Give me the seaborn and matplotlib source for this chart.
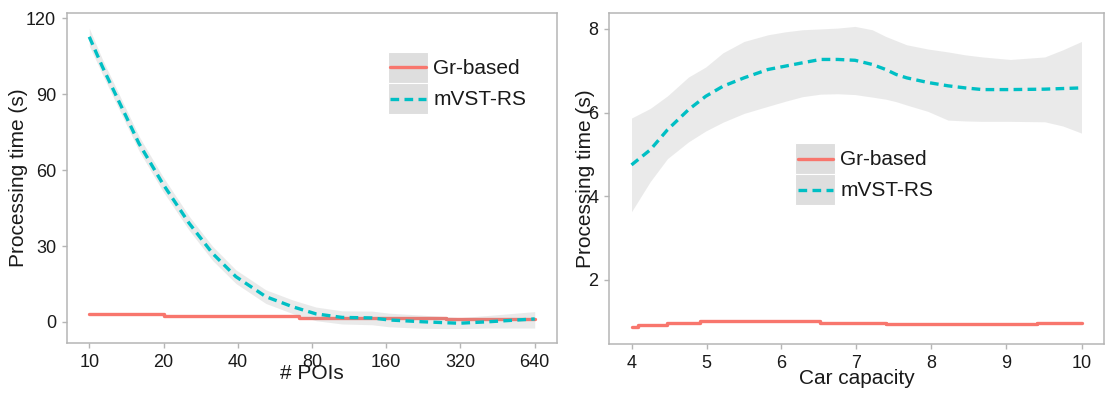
import matplotlib
matplotlib.use("Agg")
import matplotlib.pyplot as plt
import seaborn as sns
import pandas as pd
from matplotlib.patches import Rectangle
from matplotlib.lines import Line2D
from matplotlib.legend_handler import HandlerBase

# ---------------- data ----------------
methods = ["Gr-based", "mVST-RS"]

# Left panel: # POIs (log2 axis)
poi_ticks = [10, 20, 40, 80, 160, 320, 640]
poi_gr_x = [10, 20, 71, 279, 640]
poi_gr_y = [3.2, 2.5, 1.7, 1.0, 1.0]
poi_x = [10, 11.3, 13.2, 15.9, 19.8, 25.4, 31.6, 39.3, 52, 66.8, 83, 106, 140, 164, 223, 280, 316, 417, 640]
poi_mvst_y = [112.6, 100.8, 87.0, 70.5, 54.8, 39.0, 27.1, 17.9, 10.0, 6.0, 3.2, 1.8, 1.6, 0.8, 0.1, -0.3, -0.5, 0.1, 1.2]
poi_mvst_lo = [109.0, 97.8, 84.0, 67.6, 51.9, 36.2, 24.3, 15.2, 7.3, 3.3, 0.5, -0.8, -1.1, -1.9, -2.5, -2.6, -2.6, -2.4, -2.4]
poi_mvst_hi = [116.0, 103.8, 90.0, 73.4, 57.7, 41.8, 29.9, 20.6, 12.7, 8.7, 5.9, 4.4, 4.3, 3.5, 2.7, 2.1, 1.7, 2.6, 4.1]
poi_yticks = [0, 30, 60, 90, 120]

# Right panel: car capacity
cap_ticks = [4, 5, 6, 7, 8, 9, 10]
cap_gr_x = [4.0, 4.08, 4.47, 4.91, 6.51, 7.4, 9.4, 10.0]
cap_gr_y = [0.88, 0.92, 0.965, 1.02, 0.98, 0.94, 0.98, 0.98]
cap_x = [4.0, 4.25, 4.48, 4.76, 4.99, 5.22, 5.5, 5.82, 6.05, 6.28, 6.52, 6.75, 6.98, 7.21, 7.39,
         7.53, 7.67, 7.95, 8.22, 8.45, 8.68, 9.05, 9.51, 9.75, 10.0]
cap_mvst_y = [4.75, 5.11, 5.59, 6.07, 6.39, 6.63, 6.83, 7.03, 7.11, 7.19, 7.27, 7.27, 7.25, 7.15, 7.03,
              6.91, 6.83, 6.72, 6.64, 6.59, 6.55, 6.55, 6.56, 6.575, 6.59]
cap_mvst_hi = [5.87, 6.10, 6.40, 6.85, 7.09, 7.43, 7.70, 7.86, 7.93, 7.98, 8.00, 8.02, 8.06, 7.98, 7.82,
               7.72, 7.62, 7.52, 7.45, 7.38, 7.33, 7.27, 7.33, 7.50, 7.70]
cap_mvst_lo = [3.63, 4.35, 4.90, 5.30, 5.56, 5.77, 5.98, 6.15, 6.27, 6.38, 6.44, 6.45, 6.43, 6.37, 6.32,
               6.26, 6.18, 6.03, 5.82, 5.80, 5.79, 5.79, 5.78, 5.68, 5.51]
cap_yticks = [2, 4, 6, 8]

# ---------------- style ----------------
sns.set_theme(style="white")
plt.rcParams["font.family"] = ["Liberation Sans", "DejaVu Sans"]

RED = "#F8766D"
CYAN = "#00BFC4"
SPINE = "#B5B5B5"
TXT = "#1a1a1a"
LW = 2.4
DASH = (2.6, 1.6)


class KeyHandler(HandlerBase):
    def create_artists(self, legend, orig_handle, xdescent, ydescent, width, height, fontsize, trans):
        rect = Rectangle((-xdescent, -ydescent), width, height, facecolor="#DEDEDE",
                         edgecolor="white", linewidth=0.8, transform=trans)
        y = -ydescent + height / 2
        line = Line2D([-xdescent + 0.06 * width, -xdescent + 0.94 * width], [y, y])
        line.update_from(orig_handle)
        line.set_transform(trans)
        return [rect, line]


fig = plt.figure(figsize=(11.19, 3.96), dpi=100)
ax1 = fig.add_axes([67 / 1119, 53 / 396, 490 / 1119, 330 / 396])
ax2 = fig.add_axes([609 / 1119, 52 / 396, 495 / 1119, 331 / 396])

# left panel
df_gr1 = pd.DataFrame({"x": poi_gr_x, "y": poi_gr_y})
df_mv1 = pd.DataFrame({"x": poi_x, "y": poi_mvst_y})
sns.lineplot(data=df_gr1, x="x", y="y", ax=ax1, color=RED, lw=LW, drawstyle="steps-post",
             estimator=None, sort=True, zorder=2)
ax1.fill_between(poi_x, poi_mvst_lo, poi_mvst_hi, color="#999999", alpha=0.2, lw=0, zorder=3)
sns.lineplot(data=df_mv1, x="x", y="y", ax=ax1, color=CYAN, lw=LW, dashes=DASH,
             estimator=None, sort=True, zorder=4)
ax1.set_xscale("log", base=2)
ax1.set_xticks(poi_ticks)
ax1.set_xticklabels([str(t) for t in poi_ticks])
ax1.xaxis.set_minor_locator(matplotlib.ticker.NullLocator())
ax1.set_xlim(10 / 2 ** 0.3, 640 * 2 ** 0.3)
ax1.set_yticks(poi_yticks)
ax1.set_ylim(-8.3, 122)
ax1.set_xlabel("# POIs")
ax1.set_ylabel("Processing time (s)")
ax1.xaxis.set_label_coords(0.5, -0.065)
ax1.yaxis.set_label_coords(-0.08, 0.5)

# right panel
df_gr2 = pd.DataFrame({"x": cap_gr_x, "y": cap_gr_y})
df_mv2 = pd.DataFrame({"x": cap_x, "y": cap_mvst_y})
sns.lineplot(data=df_gr2, x="x", y="y", ax=ax2, color=RED, lw=LW, drawstyle="steps-post",
             estimator=None, sort=True, zorder=2)
ax2.fill_between(cap_x, cap_mvst_lo, cap_mvst_hi, color="#999999", alpha=0.2, lw=0, zorder=3)
sns.lineplot(data=df_mv2, x="x", y="y", ax=ax2, color=CYAN, lw=LW, dashes=DASH,
             estimator=None, sort=True, zorder=4)
ax2.set_xticks(cap_ticks)
ax2.set_xlim(3.7, 10.3)
ax2.set_yticks(cap_yticks)
ax2.set_ylim(0.47, 8.38)
ax2.set_xlabel("Car capacity")
ax2.set_ylabel("Processing time (s)")
ax2.xaxis.set_label_coords(0.5, -0.075)
ax2.yaxis.set_label_coords(-0.028, 0.5)

for ax, anchor in [(ax1, (0.655, 0.882)), (ax2, (0.376, 0.607))]:
    for s in ax.spines.values():
        s.set_color(SPINE)
        s.set_linewidth(1.1)
    ax.tick_params(axis="both", which="major", direction="out", length=3.8, width=1.0,
                   color=SPINE, labelsize=13, labelcolor=TXT, pad=4,
                   bottom=True, left=True)
    ax.xaxis.label.set_size(15)
    ax.yaxis.label.set_size(15)
    ax.xaxis.label.set_color(TXT)
    ax.yaxis.label.set_color(TXT)
    ax.grid(False)
    handles = [ax.lines[0], ax.lines[1]]
    leg = ax.legend(handles, methods, loc="upper left", bbox_to_anchor=anchor,
                    frameon=False, fontsize=15, borderpad=0, borderaxespad=0,
                    handlelength=1.92, handleheight=1.92, handletextpad=0.25,
                    labelspacing=0.0, handler_map={h: KeyHandler() for h in handles})
    for t in leg.get_texts():
        t.set_color(TXT)
    leg.set_zorder(10)

fig.savefig("out.png", dpi=100)
